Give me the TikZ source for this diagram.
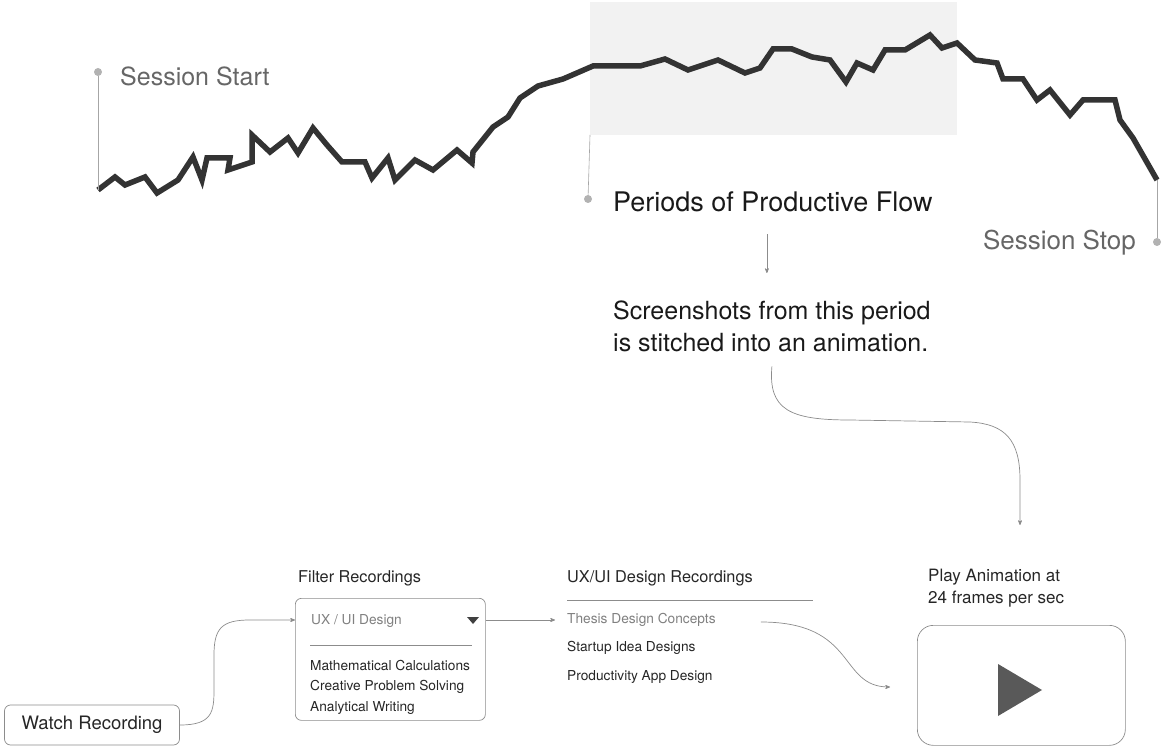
\documentclass[tikz,border=0pt]{standalone}
\usepackage{fontspec}
\setmainfont{TeX Gyre Heros}
\usepackage{tikz}
\usetikzlibrary{arrows,positioning,calc}

\tikzset{
  pin dot/.style={circle,fill=black!30,inner sep=0pt,minimum size=8pt},
  pin line/.style={draw=black!35,line width=0.6pt},
  big label/.style={font=\fontsize{25}{32}\selectfont,inner sep=0pt},
  small label/.style={font=\fontsize{16.3}{22}\selectfont,inner sep=0pt,text=black!85},
  item/.style={font=\fontsize{13.7}{16}\selectfont,inner sep=0pt,anchor=west,text=black!85},
  flow/.style={draw=black!45,line width=0.7pt,->,>=stealth'},
  ui box/.style={draw=black!45,rounded corners=6pt,line width=0.7pt}
}

\begin{document}
\begin{tikzpicture}[x=1pt,y=-1pt]
\useasboundingbox (0,0) rectangle (1165,751);

% flow period and session curve
\fill[black!5] (590,2) rectangle (957,135);
\coordinate (flowstart) at (590,135);
\draw[line width=5.5pt,black!80,line join=miter] plot coordinates {
  (98,190) (115,177) (125,185) (145,177) (157,193) (178,180) (193,157) (202,180)
  (207,158) (230,158) (228,170) (252,162) (252,135) (270,152) (288,138) (298,153)
  (313,128) (327,145) (342,162) (365,162) (372,178) (388,158) (395,180) (415,160)
  (433,170) (457,150) (472,163) (473,152) (493,127) (508,117) (520,98) (538,86)
  (563,79) (593,66) (640,66) (665,59) (688,70) (718,60) (745,73) (760,68)
  (773,49) (792,49) (812,57) (830,60) (846,82) (857,63) (873,70) (885,50)
  (905,50) (930,35) (942,48) (957,43) (975,60) (997,63) (1003,79) (1023,79)
  (1037,100) (1050,90) (1070,115) (1083,100) (1115,100) (1120,120) (1133,138) (1157,180)};
\coordinate (curvestart) at (98,190);
\coordinate (curveend) at (1157,180);

% pins
\node[pin dot] (startdot) at (98,72) {};
\node[big label, anchor=west, text=black!60] (start) at (120,76) {Session Start};
\draw[pin line] (startdot) -- (curvestart);

\node[pin dot] (flowdot) at (588,199) {};
\node[big label, font=\fontsize{27}{32}\selectfont, anchor=west, text=black!90] (periods) at (613,202) {Periods of Productive Flow};
\draw[pin line] (flowstart) -- (flowdot);

\node[pin dot] (stopdot) at (1157,242) {};
\node[big label, font=\fontsize{26}{32}\selectfont, anchor=east, text=black!60] (stop) at (1136,243) {Session Stop};
\draw[pin line] (curveend) -- (stopdot);

\node[big label, anchor=north west, align=left, text=black!90] (shots) at (613,301)
  {Screenshots from this period\\is stitched into an animation.};
\draw[flow, shorten <=22pt, shorten >=28pt] ([xshift=-6pt]periods.south) -- ([xshift=-6pt]periods.south |- shots.north);

% bottom row
\node[small label, anchor=west] (filterlbl) at (298,578) {Filter Recordings};
\node[ui box, minimum width=190pt, minimum height=122pt, anchor=north west] (filter) at (295,598) {};
\node[item, text=black!50] (uxui) at (311,621) {UX / UI Design};
\fill[black!75] (467,617) -- (479,617) -- (473,624) -- cycle;
\draw[black!45, line width=0.6pt] (310,645) -- (472,645);
\node[item] (math) at (310,666) {Mathematical Calculations};
\node[item] (creative) at (310,687) {Creative Problem Solving};
\node[item] (writing) at (310,708) {Analytical Writing};

\node[ui box, minimum width=175pt, minimum height=40pt, font=\fontsize{18.5}{20}\selectfont, text=black!85] (watch) at (92,725) {Watch Recording};
\draw[flow] (watch.east) .. controls (212,725) and (214,712) .. (214,690) -- (214,655)
  .. controls (214,628) and (222,620) .. (250,620) -- ([yshift=-22pt]filter.north west);

\node[small label, anchor=west] (listlbl) at (567,578) {UX/UI Design Recordings};
\draw[black!45, line width=0.6pt] (567,600) -- (813,600);
\node[item, text=black!50] (thesis) at (567,620) {Thesis Design Concepts};
\node[item] (startup) at (567,648) {Startup Idea Designs};
\node[item] (productivity) at (567,677) {Productivity App Design};
\draw[flow, shorten >=12pt] (filter.east |- thesis.west) -- (thesis.west);

\node[small label, font=\fontsize{17}{22}\selectfont, anchor=north west, align=left] (playlbl) at (928,569) {Play Animation at\\24 frames per sec};
\node[ui box, rounded corners=16pt, minimum width=208pt, minimum height=120pt, anchor=north west] (play) at (917,625) {};
\fill[black!65] (998,664) -- (1042,690) -- (998,716) -- cycle;

\draw[flow, shorten >=27pt] ([xshift=45pt,yshift=-2pt]thesis.east) .. controls (858,622) and (838,687) .. (play.west |- 0,687);

\coordinate (playin) at (1020,525);
\draw[flow] ([yshift=-14pt]shots.south) .. controls (768,410) and (790,420) .. (850,420) -- (970,422)
  .. controls (1005,424) and (1020,440) .. (1020,480) -- (playin);
\end{tikzpicture}
\end{document}
